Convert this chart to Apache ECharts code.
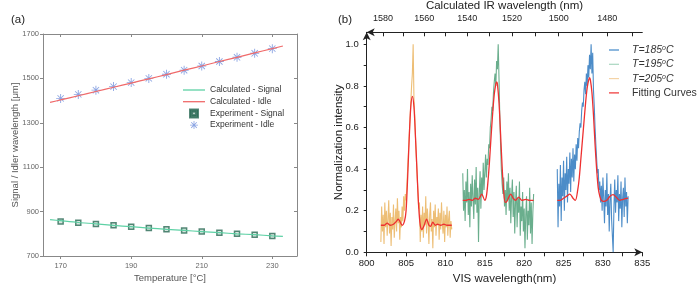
<!DOCTYPE html>
<html><head><meta charset="utf-8">
<script src="https://cdn.jsdelivr.net/npm/echarts@6/dist/echarts.min.js"></script>
<style>html,body{margin:0;padding:0;background:#fff}#c{width:698px;height:286px}</style>
</head><body><div id="c"></div>
<script>
// ---------- Panel (a) data ----------
const tempExp = [170,175,180,185,190,195,200,205,210,215,220,225,230];
const idleExp = [1410,1428,1447,1463,1481,1500,1519,1537,1556,1576,1595,1613,1634];
const signalExp = [855,850,844,838,832,826,820,815,810,805,800,796,790];
const tempCalc = [167,170,175,180,185,190,195,200,205,210,215,220,225,230,233];
const idleCalc = [1392,1403,1422,1441,1460,1479,1498,1517,1537,1556,1576,1595,1615,1634,1646];
const signalCalc = [864,859,851,845,838,832,826,820,815,810,805,800,796,791,788];
const tempTicks = [170,190,210,230];

// ---------- Panel (b) data ----------
const visOrangeX = [801.8,801.9,802.0,802.1,802.2,802.3,802.4,802.5,802.6,802.7,
802.8,802.9,803.0,803.1,803.2,803.3,803.4,803.5,803.6,803.7,
803.8,803.9,804.0,804.1,804.2,804.3,804.4,804.5,804.6,804.7,
804.8,804.9,805.0,805.1,805.2,805.3,805.4,805.5,805.6,805.7,
805.8,805.9,806.0,806.1,806.2,806.3,806.4,806.5,806.6,806.7,
806.8,806.9,807.0,807.1,807.2,807.3,807.4,807.5,807.6,807.7,
807.8,807.9,808.0,808.1,808.2,808.3,808.4,808.5,808.6,808.7,
808.8,808.9,809.0,809.1,809.2,809.3,809.4,809.5,809.6,809.7,
809.8,809.9,810.0,810.1,810.2,810.3,810.4,810.5,810.6,810.7,810.8];
const intOrange = [0.05,0.22,0.10,0.18,0.04,0.24,0.12,0.20,0.08,0.16,
0.25,0.09,0.19,0.03,0.17,0.11,0.23,0.07,0.15,0.21,
0.10,0.26,0.14,0.20,0.06,0.17,0.12,0.22,0.15,0.27,
0.20,0.28,0.25,0.32,0.40,0.48,0.56,0.64,0.72,0.80,
0.86,1.00,0.74,0.66,0.55,0.46,0.37,0.30,0.21,0.24,
0.05,0.18,0.10,0.22,0.07,0.19,0.13,0.27,0.09,0.21,
0.15,0.04,0.18,0.24,0.10,0.16,0.02,0.20,0.12,0.23,
0.08,0.17,0.13,0.21,0.06,0.19,0.11,0.24,0.14,0.09,
0.20,0.05,0.18,0.12,0.22,0.08,0.16,0.20,0.07,0.15,0.11];

const visGreenX = [812.2,812.3,812.4,812.5,812.6,812.7,812.8,812.9,813.0,813.1,
813.2,813.3,813.4,813.5,813.6,813.7,813.8,813.9,814.0,814.1,
814.2,814.3,814.4,814.5,814.6,814.7,814.8,814.9,815.0,815.1,
815.2,815.3,815.4,815.5,815.6,815.7,815.8,815.9,816.0,816.1,
816.2,816.3,816.4,816.5,816.6,816.7,816.8,816.9,817.0,817.1,
817.2,817.3,817.4,817.5,817.6,817.7,817.8,817.9,818.0,818.1,
818.2,818.3,818.4,818.5,818.6,818.7,818.8,818.9,819.0,819.1,
819.2,819.3,819.4,819.5,819.6,819.7,819.8,819.9,820.0,820.1,
820.2,820.3,820.4,820.5,820.6,820.7,820.8,820.9,821.0,821.1,821.2];
const intGreen = [0.38,0.20,0.30,0.15,0.34,0.24,0.40,0.18,0.29,0.12,
0.33,0.22,0.37,0.26,0.16,0.35,0.23,0.41,0.19,0.31,
0.05,0.28,0.39,0.21,0.36,0.27,0.43,0.30,0.38,0.47,
0.36,0.45,0.42,0.52,0.50,0.60,0.64,0.70,0.68,0.77,
0.82,0.86,0.80,0.92,0.88,1.00,0.84,0.66,0.52,0.40,
0.33,0.28,0.36,0.22,0.30,0.18,0.34,0.25,0.38,0.20,
0.31,0.14,0.27,0.35,0.17,0.29,0.09,0.24,0.32,0.12,
0.26,0.19,0.34,0.08,0.22,0.15,0.29,0.10,0.21,0.02,
0.18,0.27,0.06,0.20,0.13,0.31,0.09,0.24,0.04,0.19,0.28];

const visBlueX = [824.2,824.3,824.4,824.5,824.6,824.7,824.8,824.9,825.0,825.1,
825.2,825.3,825.4,825.5,825.6,825.7,825.8,825.9,826.0,826.1,
826.2,826.3,826.4,826.5,826.6,826.7,826.8,826.9,827.0,827.1,
827.2,827.3,827.4,827.5,827.6,827.7,827.8,827.9,828.0,828.1,
828.2,828.3,828.4,828.5,828.6,828.7,828.8,828.9,829.0,829.1,
829.2,829.3,829.4,829.5,829.6,829.7,829.8,829.9,830.0,830.1,
830.2,830.3,830.4,830.5,830.6,830.7,830.8,830.9,831.0,831.1,
831.2,831.3,831.4,831.5,831.6,831.7,831.8,831.9,832.0,832.1,
832.2,832.3,832.4,832.5,832.6,832.7,832.8,832.9,833.0,833.1,833.2];
const intBlue = [0.40,0.12,0.33,0.22,0.42,0.15,0.36,0.27,0.44,0.20,
0.38,0.30,0.46,0.24,0.40,0.33,0.48,0.29,0.45,0.36,
0.50,0.34,0.47,0.40,0.52,0.44,0.55,0.50,0.58,0.62,
0.60,0.68,0.72,0.70,0.78,0.82,0.76,0.86,0.80,0.90,
0.84,0.95,0.88,1.00,0.86,0.96,0.78,0.70,0.60,0.52,
0.45,0.38,0.40,0.30,0.34,0.24,0.32,0.20,0.36,0.26,
0.14,0.30,0.22,0.38,0.18,0.28,0.10,0.25,0.33,0.16,
0.08,0.00,0.22,0.35,0.19,0.30,0.24,0.37,0.15,0.28,
0.21,0.34,0.12,0.26,0.31,0.17,0.36,0.22,0.29,0.14,0.27];

const fitOrangeX = [801.8,802.2,802.6,803.0,803.4,803.8,804.0,804.2,804.5,804.8,805.0,805.2,805.4,805.6,805.8,806.0,806.2,806.4,806.6,806.8,807.0,807.3,807.6,807.9,808.1,808.4,808.7,809.0,809.4,809.8,810.2,810.8];
const fitOrangeY = [0.13,0.13,0.14,0.13,0.135,0.15,0.16,0.15,0.13,0.15,0.20,0.36,0.55,0.70,0.75,0.70,0.55,0.38,0.22,0.13,0.11,0.13,0.16,0.13,0.125,0.145,0.13,0.135,0.13,0.135,0.13,0.13];
const fitGreenX = [812.2,812.6,813.0,813.4,813.8,814.2,814.6,815.0,815.2,815.4,815.6,815.8,816.0,816.2,816.4,816.5,816.6,816.8,817.0,817.2,817.4,817.6,817.8,818.1,818.3,818.6,818.9,819.3,819.7,820.2,820.7,821.2];
const fitGreenY = [0.25,0.25,0.255,0.25,0.26,0.255,0.28,0.25,0.27,0.34,0.44,0.56,0.67,0.76,0.81,0.82,0.81,0.72,0.57,0.41,0.29,0.24,0.245,0.27,0.28,0.26,0.25,0.265,0.25,0.255,0.25,0.25];
const fitBlueX = [824.2,824.6,825.0,825.4,825.8,826.2,826.5,826.8,827.0,827.2,827.4,827.6,827.8,828.0,828.2,828.3,828.4,828.6,828.8,829.0,829.2,829.4,829.6,829.8,830.1,830.5,830.9,831.3,831.7,832.1,832.6,833.2];
const fitBlueY = [0.25,0.25,0.26,0.27,0.28,0.26,0.25,0.30,0.36,0.45,0.54,0.63,0.72,0.79,0.83,0.84,0.83,0.77,0.66,0.52,0.40,0.31,0.27,0.25,0.245,0.25,0.27,0.277,0.265,0.25,0.255,0.26];

const visLabels = [800,805,810,815,820,825,830,835];
const visTicks = [800,802.5,805,807.5,810,812.5,815,817.5,820,822.5,825,827.5,830,832.5,835];
const intLabels = [0,0.2,0.4,0.6,0.8,1.0];
const intTicks = [0,0.1,0.2,0.3,0.4,0.5,0.6,0.7,0.8,0.9,1.0];
const irLabels = [1580,1560,1540,1520,1500,1480];
const irTicks = [1580,1570,1560,1550,1540,1530,1520,1510,1500,1490,1480,1470];
const PUMP = 532; // nm, pump wavelength linking VIS and IR axes

// ---------- helpers ----------
const zip = (xs, ys) => xs.map((x, i) => [x, ys[i]]);
const irToVis = ir => 1 / (1 / PUMP - 1 / ir);
const visToIr = v => 1 / (1 / PUMP - 1 / v);
const FONT = 'Liberation Sans, Arial, sans-serif';
const asterisk = 'path://M0,45L100,45L100,55L0,55Z M45,0L55,0L55,100L45,100Z M11.5,18.5L18.5,11.5L88.5,81.5L81.5,88.5Z M81.5,11.5L88.5,18.5L18.5,88.5L11.5,81.5Z';
const lineIconA = 'path://M0,0L22,0L22,1.3L0,1.3Z';
const lineIconB = 'path://M0,0L10,0L10,1.2L0,1.2Z';
const squareIcon = 'path://M0,0L10,0L10,10L0,10Z M3,3L3,7L7,7L7,3Z';

const greyAxis = { lineStyle: { color: '#888', width: 1 } };
const blackAxis = (sym) => ({ lineStyle: { color: '#222', width: 1 }, symbol: sym, symbolSize: [6, 8] });

const chart = echarts.init(document.getElementById('c'), null, { renderer: 'canvas' });
chart.setOption({
  animation: false,
  textStyle: { fontFamily: FONT },
  title: [
    { text: '(a)', left: 6, top: 9, textStyle: { fontSize: 11.5, fontWeight: 'normal', color: '#222', fontFamily: FONT } },
    { text: '(b)', left: 333, top: 9, textStyle: { fontSize: 11.5, fontWeight: 'normal', color: '#222', fontFamily: FONT } }
  ],
  grid: [
    { left: 43, top: 34, width: 254, height: 222, outerBoundsMode: 'none', containLabel: false },
    { left: 366.7, top: 32.3, width: 275.6, height: 220, outerBoundsMode: 'none', containLabel: false }
  ],
  legend: [
    {
      left: 183, top: 85, orient: 'vertical', padding: 0,
      itemWidth: 22, itemHeight: 8, itemGap: 1.7,
      textStyle: { fontSize: 8.5, color: '#333', lineHeight: 10, fontFamily: FONT },
      data: [
        { name: 'Calculated - Signal', icon: lineIconA },
        { name: 'Calculated - Idle', icon: lineIconA },
        { name: 'Experiment - Signal', icon: squareIcon, itemStyle: { color: '#2b6a55' } },
        { name: 'Experiment - Idle', icon: asterisk }
      ]
    },
    {
      left: 609, top: 44.5, orient: 'vertical', padding: 0,
      itemWidth: 10, itemHeight: 10, itemGap: 3.3,
      data: [
        { name: 'T=185', icon: lineIconB, itemStyle: { color: '#3f86c8' } },
        { name: 'T=195', icon: lineIconB, itemStyle: { color: '#a9d6c0' } },
        { name: 'T=205', icon: lineIconB, itemStyle: { color: '#f4d3a6' } },
        { name: 'Fitting Curves', icon: lineIconB, itemStyle: { color: '#ee3030' } }
      ],
      formatter: n => n === 'Fitting Curves' ? '{f|Fitting Curves}' : '{t|' + n + '}{s|o}{c|C}',
      textStyle: {
        fontSize: 10.5, color: '#333', fontFamily: FONT,
        rich: {
          f: { fontSize: 10.5, color: '#333', padding: [0, 0, 0, 8], fontFamily: FONT },
          t: { fontSize: 10.5, color: '#333', fontStyle: 'italic', padding: [0, 0, 0, 8], fontFamily: FONT },
          s: { fontSize: 7, color: '#333', fontStyle: 'italic', verticalAlign: 'top', fontFamily: FONT },
          c: { fontSize: 10.5, color: '#333', fontStyle: 'italic', fontFamily: FONT }
        }
      }
    }
  ],
  xAxis: [
    {
      gridIndex: 0, type: 'value', min: 165, max: 237, position: 'bottom',
      axisLine: greyAxis, splitLine: { show: false },
      axisTick: { customValues: tempTicks, length: 3, lineStyle: { color: '#888' } },
      axisLabel: { customValues: tempTicks, fontSize: 7.5, color: '#666', margin: 6 },
      name: 'Temperature [°C]', nameLocation: 'middle', nameGap: 17, nameMoveOverlap: false,
      nameTextStyle: { fontSize: 9.5, color: '#555' }
    },
    {
      gridIndex: 0, type: 'value', min: 165, max: 237, position: 'top',
      axisLine: greyAxis, splitLine: { show: false },
      axisTick: { customValues: tempTicks, inside: true, length: 3, lineStyle: { color: '#888' } },
      axisLabel: { show: false }
    },
    {
      gridIndex: 1, type: 'value', min: 800, max: 835, position: 'bottom',
      axisLine: blackAxis(['none', 'arrow']), splitLine: { show: false },
      axisTick: { customValues: visTicks, length: 4, lineStyle: { color: '#222' } },
      axisLabel: { customValues: visLabels, fontSize: 9.5, color: '#222', margin: 6 },
      name: 'VIS wavelength(nm)', nameLocation: 'middle', nameGap: 21, nameMoveOverlap: false,
      nameTextStyle: { fontSize: 11.5, color: '#222' }
    },
    {
      gridIndex: 1, type: 'value', min: 800, max: 835, position: 'top',
      axisLine: blackAxis(['arrow', 'none']), splitLine: { show: false },
      axisTick: { customValues: irTicks.map(irToVis), inside: true, length: 4, lineStyle: { color: '#222' } },
      axisLabel: { customValues: irLabels.map(irToVis), fontSize: 9, color: '#222', margin: 9,
        formatter: v => String(Math.round(visToIr(v))) },
      name: 'Calculated IR wavelength (nm)', nameLocation: 'middle', nameGap: 20, nameMoveOverlap: false,
      nameTextStyle: { fontSize: 11.5, color: '#222' }
    }
  ],
  yAxis: [
    {
      gridIndex: 0, type: 'value', min: 700, max: 1700, interval: 200, position: 'left',
      axisLine: { show: true, lineStyle: { color: '#888' } }, splitLine: { show: false },
      axisTick: { show: true, length: 3, lineStyle: { color: '#888' } },
      axisLabel: { fontSize: 7.5, color: '#666', margin: 4, formatter: v => String(v) },
      name: 'Signal / Idler wavelength [μm]', nameLocation: 'middle', nameGap: 23, nameMoveOverlap: false,
      nameTextStyle: { fontSize: 9.5, color: '#555' }
    },
    {
      gridIndex: 0, type: 'value', min: 700, max: 1700, interval: 200, position: 'right',
      axisLine: { show: true, lineStyle: { color: '#888' } }, splitLine: { show: false },
      axisTick: { show: true, inside: true, length: 3, lineStyle: { color: '#888' } },
      axisLabel: { show: false }
    },
    {
      gridIndex: 1, type: 'value', min: 0, max: 1.058, position: 'left',
      axisLine: Object.assign({ show: true }, blackAxis(['none', 'arrow'])), splitLine: { show: false },
      axisTick: { show: true, customValues: intTicks, length: 3, lineStyle: { color: '#222' } },
      axisLabel: { customValues: intLabels, fontSize: 9.5, color: '#222', margin: 8, formatter: v => v.toFixed(1) },
      name: 'Normalization intensity', nameLocation: 'middle', nameGap: 22, nameMoveOverlap: false,
      nameTextStyle: { fontSize: 11.5, color: '#222' }
    }
  ],
  series: [
    { name: 'Calculated - Signal', type: 'line', xAxisIndex: 0, yAxisIndex: 0, data: zip(tempCalc, signalCalc),
      symbol: 'none', smooth: 0.3, color: '#5ed1a5', lineStyle: { color: '#5ed1a5', width: 1.2 } },
    { name: 'Calculated - Idle', type: 'line', xAxisIndex: 0, yAxisIndex: 0, data: zip(tempCalc, idleCalc),
      symbol: 'none', smooth: 0.3, color: '#f06a6a', lineStyle: { color: '#f06a6a', width: 1.2 } },
    { name: 'Experiment - Signal', type: 'scatter', xAxisIndex: 0, yAxisIndex: 0, data: zip(tempExp, signalExp),
      symbol: 'rect', symbolSize: 5, color: '#2b6a55',
      itemStyle: { color: '#cfe0d8', borderColor: '#2b6a55', borderWidth: 1.5 } },
    { name: 'Experiment - Idle', type: 'scatter', xAxisIndex: 0, yAxisIndex: 0, data: zip(tempExp, idleExp),
      symbol: asterisk, symbolSize: 9, color: '#6f8fdc', itemStyle: { color: '#6f8fdc' } },

    { name: 'T=185', type: 'line', xAxisIndex: 2, yAxisIndex: 2, data: zip(visBlueX, intBlue),
      symbol: 'none', color: '#1f6fba', lineStyle: { color: '#1f6fba', width: 1.1, opacity: 0.8 } },
    { name: 'T=195', type: 'line', xAxisIndex: 2, yAxisIndex: 2, data: zip(visGreenX, intGreen),
      symbol: 'none', color: '#2b8c5c', lineStyle: { color: '#2b8c5c', width: 1.1, opacity: 0.7 } },
    { name: 'T=205', type: 'line', xAxisIndex: 2, yAxisIndex: 2, data: zip(visOrangeX, intOrange),
      symbol: 'none', color: '#e5a23a', lineStyle: { color: '#e5a23a', width: 1.1, opacity: 0.7 } },
    { name: 'Fitting Curves', type: 'line', xAxisIndex: 2, yAxisIndex: 2, data: zip(fitOrangeX, fitOrangeY),
      symbol: 'none', smooth: 0.3, color: '#ee3030', lineStyle: { color: '#ee3030', width: 1.3 }, z: 5 },
    { name: 'Fitting Curves', type: 'line', xAxisIndex: 2, yAxisIndex: 2, data: zip(fitGreenX, fitGreenY),
      symbol: 'none', smooth: 0.3, color: '#ee3030', lineStyle: { color: '#ee3030', width: 1.3 }, z: 5 },
    { name: 'Fitting Curves', type: 'line', xAxisIndex: 2, yAxisIndex: 2, data: zip(fitBlueX, fitBlueY),
      symbol: 'none', smooth: 0.3, color: '#ee3030', lineStyle: { color: '#ee3030', width: 1.3 }, z: 5 }
  ]
});
</script></body></html>
